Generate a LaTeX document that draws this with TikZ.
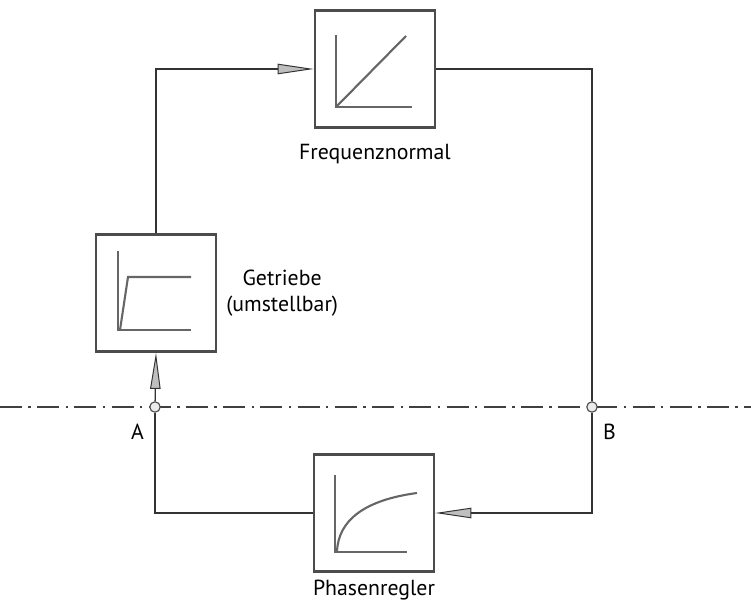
\documentclass[tikz,border=0pt]{standalone}
\usepackage{fontspec}
\setmainfont{PT Sans}
\usetikzlibrary{arrows.meta,positioning}
\tikzset{
  blockbox/.style={draw=black!70,line width=1.8pt,minimum width=3cm,minimum height=2.93cm,
    inner sep=0pt},
  flowline/.style={draw=black!80,line width=0.9pt},
  flowarrow/.style={flowline,-{Triangle[length=9mm,width=2.6mm,open,fill=black!25,line width=0.7pt]}},
  graphline/.style={draw=black!60,line width=1.5pt},
  junction/.style={circle,draw=black!70,fill=black!8,line width=0.8pt,minimum size=2.6mm,inner sep=0pt},
  axisline/.style={draw=black!75,line width=0.8pt,dash pattern=on 5.5mm off 1.6mm on 0.6mm off 1.6mm},
  blocklabel/.style={font=\fontsize{15.5}{18.5}\selectfont,align=center}
}
\begin{document}
\begin{tikzpicture}[x=0.025cm,y=-0.025cm]
  \useasboundingbox (0,0) rectangle (751,609);
  % Bloecke
  \node[blockbox] (frequenz) at (375,69) {};
  \node[blockbox] (getriebe) at (156,293) {};
  \node[blockbox] (phasen) at (374,513) {};
  \node[blocklabel,below=0.25cm of frequenz] (frequenzlabel) {Frequenznormal};
  \node[blocklabel,right=0.1cm of getriebe] (getriebelabel) {Getriebe\\(umstellbar)};
  \node[blocklabel,below=0.05cm of phasen] (phasenlabel) {Phasenregler};
  % Kennlinien
  \draw[graphline] ([shift={(-39,-34)}]frequenz.center) -- ++(0,72) -- ++(76,0);
  \draw[graphline] ([shift={(-38,37)}]frequenz.center) -- ([shift={(31,-33)}]frequenz.center);
  \draw[graphline] ([shift={(-38,-42)}]getriebe.center) -- ++(0,79) -- ++(73,0);
  \draw[graphline] ([shift={(-36,37)}]getriebe.center) -- ++(8,-53) -- ++(63,0);
  \draw[graphline] ([shift={(-39,-38)}]phasen.center) -- ++(0,77) -- ++(72,0);
  \draw[graphline] ([shift={(-37,39)}]phasen.center) .. controls ++(1,-32) and ++(-52,7) .. ([shift={(43,-20)}]phasen.center);
  % Trennlinie
  \coordinate (lw) at (0,407);
  \coordinate (le) at (751,407);
  \draw[axisline] (lw) -- (le);
  \node[junction] (A) at (155,407) {};
  \node[junction] (B) at (592,407) {};
  \node[blocklabel,below left=0.2cm and 0.05cm of A] {A};
  \node[blocklabel,below right=0.2cm and 0.05cm of B] {B};
  % Regelkreis
  \draw[flowarrow] (getriebe.north) |- (frequenz.west);
  \draw[flowline] (frequenz.east) -| (B);
  \draw[flowarrow] (B) |- (phasen.east);
  \draw[flowline] (phasen.west) -| (A);
  \draw[flowarrow] (A) -- (getriebe.south);
\end{tikzpicture}
\end{document}
